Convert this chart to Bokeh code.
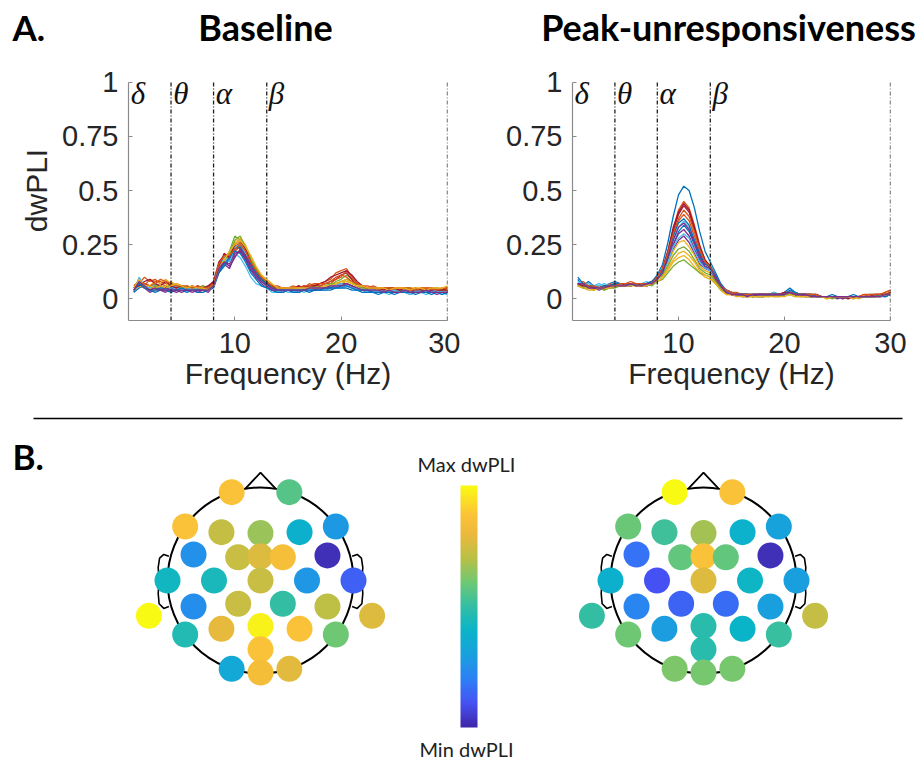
import numpy as np
from bokeh.plotting import figure
from bokeh.layouts import column, row
from bokeh.models import Range1d, FixedTicker, LinearColorMapper, ColumnDataSource
from bokeh.core.properties import value
from bokeh.embed import file_html
from bokeh.resources import INLINE

# ---------------- data ----------------
freqs = [0.5, 1.0, 1.5, 2.0, 2.5, 3.0, 3.5, 4.0, 4.5, 5.0,
         5.5, 6.0, 6.5, 7.0, 7.5, 8.0, 8.5, 9.0, 9.5, 10.0,
         10.5, 11.0, 11.5, 12.0, 12.5, 13.0, 13.5, 14.0, 14.5, 15.0,
         15.5, 16.0, 16.5, 17.0, 17.5, 18.0, 18.5, 19.0, 19.5, 20.0,
         20.5, 21.0, 21.5, 22.0, 22.5, 23.0, 23.5, 24.0, 24.5, 25.0,
         25.5, 26.0, 26.5, 27.0, 27.5, 28.0, 28.5, 29.0, 29.5, 30.0]

band_edges = [4, 8, 13, 30]
band_starts = [0, 4, 8, 13]
band_symbols = ["δ", "θ", "α", "β"]

x_ticks = [10, 20, 30]
y_ticks = [0, 0.25, 0.5, 0.75, 1]
y_tick_labels = ["0", "0.25", "0.5", "0.75", "1"]

panel_titles = ["Baseline", "Peak-unresponsiveness"]

baseline_curves = [
    [0.03,0.09,0.05,0.04,0.06,0.05,0.04,0.05,0.04,0.04, 0.04,0.05,0.04,0.04,0.05,0.07,0.14,0.17,0.20,0.25,
     0.23,0.19,0.14,0.10,0.08,0.06,0.04,0.03,0.04,0.04, 0.03,0.04,0.04,0.05,0.04,0.05,0.05,0.06,0.06,0.07,
     0.07,0.06,0.05,0.04,0.03,0.04,0.03,0.03,0.03,0.04, 0.03,0.03,0.02,0.03,0.03,0.04,0.03,0.03,0.03,0.03],
    [0.05,0.07,0.10,0.08,0.09,0.07,0.06,0.05,0.06,0.05, 0.05,0.04,0.05,0.05,0.06,0.07,0.16,0.19,0.18,0.22,
     0.24,0.20,0.15,0.12,0.09,0.07,0.05,0.05,0.05,0.04, 0.05,0.06,0.05,0.07,0.06,0.07,0.08,0.09,0.12,0.13,
     0.14,0.10,0.07,0.06,0.05,0.05,0.04,0.05,0.04,0.05, 0.04,0.05,0.04,0.04,0.05,0.04,0.04,0.05,0.04,0.04],
    [0.06,0.08,0.07,0.06,0.08,0.07,0.09,0.07,0.06,0.05, 0.06,0.05,0.04,0.05,0.04,0.06,0.13,0.17,0.20,0.23,
     0.26,0.22,0.17,0.13,0.10,0.08,0.06,0.05,0.04,0.05, 0.05,0.04,0.05,0.05,0.05,0.06,0.05,0.06,0.07,0.08,
     0.08,0.07,0.06,0.05,0.05,0.05,0.04,0.05,0.05,0.05, 0.04,0.04,0.05,0.04,0.05,0.05,0.04,0.05,0.04,0.05],
    [0.04,0.06,0.05,0.03,0.04,0.04,0.03,0.05,0.04,0.03, 0.04,0.04,0.03,0.04,0.03,0.06,0.12,0.16,0.14,0.20,
     0.22,0.18,0.13,0.10,0.07,0.05,0.04,0.04,0.03,0.04, 0.04,0.03,0.04,0.04,0.05,0.04,0.05,0.05,0.06,0.06,
     0.06,0.05,0.05,0.04,0.04,0.03,0.04,0.03,0.03,0.03, 0.03,0.04,0.03,0.03,0.03,0.03,0.03,0.02,0.03,0.03],
    [0.05,0.07,0.06,0.05,0.06,0.05,0.04,0.06,0.05,0.04, 0.05,0.04,0.04,0.04,0.05,0.07,0.15,0.18,0.22,0.29,
     0.27,0.23,0.18,0.13,0.09,0.07,0.05,0.04,0.05,0.05, 0.04,0.05,0.04,0.05,0.05,0.05,0.06,0.06,0.08,0.09,
     0.11,0.09,0.06,0.05,0.05,0.04,0.05,0.04,0.04,0.04, 0.04,0.04,0.04,0.03,0.04,0.04,0.03,0.04,0.04,0.04],
    [0.04,0.06,0.05,0.04,0.05,0.05,0.04,0.04,0.05,0.04, 0.04,0.04,0.05,0.04,0.04,0.06,0.13,0.16,0.18,0.21,
     0.19,0.15,0.10,0.07,0.06,0.05,0.03,0.03,0.04,0.03, 0.03,0.04,0.03,0.04,0.04,0.04,0.04,0.05,0.05,0.05,
     0.06,0.05,0.04,0.04,0.03,0.03,0.03,0.03,0.02,0.03, 0.03,0.03,0.02,0.03,0.03,0.02,0.03,0.03,0.02,0.03],
    [0.05,0.08,0.07,0.06,0.05,0.06,0.05,0.06,0.05,0.06, 0.05,0.05,0.06,0.05,0.05,0.08,0.17,0.20,0.19,0.23,
     0.25,0.21,0.16,0.13,0.10,0.07,0.05,0.05,0.04,0.05, 0.05,0.05,0.06,0.05,0.06,0.06,0.07,0.08,0.09,0.11,
     0.12,0.09,0.06,0.05,0.05,0.05,0.04,0.04,0.05,0.04, 0.05,0.04,0.04,0.04,0.04,0.04,0.05,0.04,0.04,0.04],
    [0.03,0.05,0.06,0.04,0.03,0.04,0.04,0.03,0.04,0.04, 0.03,0.04,0.03,0.03,0.04,0.05,0.12,0.15,0.18,0.22,
     0.21,0.17,0.12,0.09,0.06,0.05,0.04,0.03,0.03,0.04, 0.03,0.03,0.04,0.03,0.04,0.04,0.04,0.04,0.05,0.05,
     0.05,0.04,0.04,0.03,0.03,0.03,0.02,0.03,0.03,0.02, 0.03,0.03,0.03,0.02,0.03,0.03,0.02,0.03,0.03,0.02],
    [0.05,0.07,0.06,0.09,0.08,0.08,0.07,0.06,0.07,0.06, 0.05,0.06,0.05,0.06,0.05,0.07,0.15,0.19,0.21,0.24,
     0.26,0.24,0.19,0.14,0.10,0.08,0.06,0.05,0.05,0.05, 0.05,0.05,0.05,0.06,0.07,0.06,0.07,0.07,0.09,0.10,
     0.13,0.10,0.07,0.06,0.06,0.05,0.05,0.05,0.05,0.04, 0.05,0.05,0.04,0.05,0.04,0.05,0.04,0.04,0.05,0.04],
    [0.04,0.06,0.05,0.05,0.04,0.05,0.06,0.08,0.06,0.05, 0.05,0.05,0.05,0.04,0.05,0.06,0.14,0.18,0.21,0.26,
     0.28,0.25,0.19,0.14,0.11,0.08,0.06,0.05,0.05,0.04, 0.05,0.05,0.04,0.05,0.05,0.05,0.05,0.06,0.07,0.07,
     0.08,0.07,0.06,0.05,0.04,0.05,0.04,0.04,0.05,0.05, 0.05,0.04,0.05,0.05,0.04,0.05,0.05,0.04,0.05,0.05],
    [0.04,0.07,0.05,0.04,0.05,0.04,0.04,0.04,0.03,0.04, 0.04,0.03,0.04,0.04,0.04,0.06,0.13,0.17,0.16,0.21,
     0.22,0.19,0.14,0.10,0.08,0.06,0.04,0.04,0.04,0.04, 0.04,0.04,0.04,0.04,0.04,0.05,0.05,0.05,0.06,0.07,
     0.07,0.06,0.05,0.04,0.04,0.04,0.03,0.04,0.03,0.03, 0.04,0.03,0.03,0.04,0.03,0.03,0.04,0.03,0.03,0.03],
    [0.05,0.08,0.06,0.05,0.06,0.06,0.05,0.07,0.06,0.05, 0.06,0.05,0.05,0.06,0.05,0.07,0.16,0.18,0.21,0.27,
     0.29,0.24,0.18,0.14,0.10,0.07,0.06,0.05,0.05,0.05, 0.05,0.05,0.05,0.05,0.06,0.05,0.06,0.07,0.07,0.08,
     0.09,0.08,0.06,0.05,0.05,0.05,0.05,0.04,0.05,0.05, 0.04,0.05,0.05,0.04,0.05,0.04,0.05,0.05,0.04,0.05],
    [0.04,0.10,0.06,0.05,0.07,0.06,0.05,0.05,0.06,0.04, 0.05,0.04,0.05,0.05,0.04,0.06,0.14,0.19,0.17,0.24,
     0.25,0.21,0.15,0.11,0.08,0.06,0.05,0.04,0.04,0.04, 0.04,0.04,0.05,0.04,0.05,0.05,0.05,0.06,0.06,0.07,
     0.06,0.05,0.05,0.04,0.04,0.04,0.03,0.04,0.03,0.04, 0.03,0.04,0.03,0.03,0.04,0.03,0.03,0.04,0.03,0.03],
    [0.05,0.06,0.08,0.09,0.07,0.06,0.08,0.06,0.05,0.06, 0.05,0.06,0.05,0.05,0.06,0.08,0.15,0.21,0.19,0.25,
     0.27,0.23,0.17,0.12,0.09,0.07,0.06,0.05,0.05,0.05, 0.05,0.06,0.05,0.06,0.06,0.07,0.08,0.10,0.11,0.12,
     0.13,0.11,0.08,0.06,0.05,0.05,0.05,0.04,0.05,0.05, 0.04,0.05,0.04,0.05,0.04,0.04,0.05,0.04,0.04,0.05],
    [0.04,0.07,0.05,0.04,0.04,0.05,0.05,0.04,0.04,0.05, 0.04,0.04,0.04,0.05,0.04,0.06,0.13,0.16,0.19,0.23,
     0.24,0.20,0.16,0.12,0.09,0.07,0.05,0.04,0.04,0.04, 0.04,0.04,0.04,0.04,0.04,0.04,0.05,0.05,0.05,0.06,
     0.06,0.05,0.04,0.04,0.04,0.03,0.03,0.03,0.03,0.03, 0.03,0.03,0.03,0.03,0.03,0.03,0.03,0.03,0.02,0.03],
    [0.06,0.08,0.07,0.06,0.07,0.09,0.08,0.07,0.06,0.06, 0.06,0.05,0.06,0.05,0.05,0.07,0.16,0.20,0.20,0.23,
     0.25,0.22,0.17,0.13,0.10,0.08,0.06,0.06,0.05,0.05, 0.06,0.05,0.06,0.06,0.07,0.07,0.07,0.08,0.10,0.11,
     0.10,0.08,0.07,0.06,0.05,0.06,0.05,0.05,0.05,0.05, 0.05,0.05,0.05,0.04,0.05,0.05,0.05,0.04,0.05,0.05],
    [0.05,0.09,0.06,0.06,0.05,0.06,0.05,0.06,0.07,0.06, 0.05,0.06,0.05,0.05,0.04,0.06,0.14,0.18,0.22,0.25,
     0.27,0.24,0.20,0.15,0.11,0.09,0.07,0.05,0.05,0.05, 0.05,0.05,0.05,0.05,0.05,0.05,0.06,0.06,0.07,0.08,
     0.09,0.07,0.06,0.06,0.05,0.05,0.05,0.05,0.04,0.05, 0.05,0.05,0.04,0.05,0.05,0.04,0.05,0.05,0.05,0.06],
    [0.04,0.08,0.06,0.04,0.05,0.04,0.05,0.04,0.04,0.04, 0.04,0.04,0.04,0.04,0.04,0.06,0.14,0.17,0.15,0.19,
     0.23,0.20,0.15,0.11,0.08,0.06,0.05,0.04,0.04,0.04, 0.04,0.04,0.04,0.05,0.05,0.05,0.05,0.06,0.06,0.06,
     0.07,0.06,0.05,0.04,0.04,0.04,0.04,0.03,0.04,0.03, 0.03,0.04,0.03,0.03,0.03,0.04,0.03,0.03,0.03,0.03],
]

peak_curves = [
    [0.09,0.06,0.08,0.06,0.05,0.06,0.07,0.08,0.07,0.06, 0.07,0.07,0.06,0.07,0.08,0.11,0.16,0.26,0.38,0.48,
     0.52,0.50,0.42,0.31,0.22,0.17,0.12,0.07,0.04,0.03, 0.02,0.02,0.02,0.01,0.02,0.02,0.02,0.03,0.02,0.03,
     0.05,0.03,0.02,0.02,0.02,0.02,0.01,0.01,0.02,0.01, 0.01,0.01,0.02,0.01,0.01,0.02,0.02,0.01,0.02,0.02],
    [0.07,0.08,0.06,0.05,0.06,0.05,0.07,0.06,0.07,0.06, 0.07,0.06,0.07,0.06,0.07,0.10,0.14,0.22,0.32,0.41,
     0.45,0.42,0.34,0.25,0.18,0.15,0.10,0.06,0.04,0.03, 0.03,0.02,0.02,0.02,0.02,0.01,0.02,0.02,0.02,0.02,
     0.03,0.03,0.02,0.02,0.02,0.01,0.01,0.01,0.01,0.01, 0.01,0.01,0.01,0.01,0.02,0.01,0.02,0.02,0.03,0.04],
    [0.06,0.05,0.04,0.04,0.05,0.04,0.05,0.06,0.06,0.07, 0.06,0.07,0.06,0.06,0.07,0.08,0.10,0.13,0.17,0.19,
     0.20,0.18,0.15,0.12,0.10,0.09,0.07,0.04,0.02,0.02, 0.01,0.02,0.01,0.01,0.01,0.01,0.01,0.02,0.01,0.02,
     0.02,0.02,0.01,0.01,0.01,0.01,0.01,0.00,0.01,0.01, 0.00,0.01,0.01,0.00,0.01,0.01,0.01,0.01,0.02,0.03],
    [0.07,0.06,0.05,0.05,0.04,0.05,0.06,0.07,0.06,0.06, 0.06,0.07,0.07,0.06,0.07,0.09,0.12,0.17,0.23,0.27,
     0.29,0.26,0.21,0.16,0.14,0.13,0.09,0.05,0.03,0.02, 0.02,0.01,0.01,0.02,0.01,0.01,0.02,0.02,0.02,0.02,
     0.03,0.02,0.02,0.01,0.02,0.01,0.01,0.01,0.01,0.00, 0.01,0.01,0.01,0.01,0.01,0.01,0.01,0.02,0.01,0.02],
    [0.06,0.05,0.05,0.04,0.05,0.04,0.05,0.05,0.06,0.06, 0.07,0.06,0.06,0.07,0.06,0.08,0.09,0.12,0.15,0.17,
     0.18,0.16,0.14,0.12,0.11,0.10,0.07,0.04,0.03,0.02, 0.02,0.01,0.02,0.01,0.01,0.01,0.02,0.01,0.02,0.02,
     0.02,0.01,0.01,0.02,0.01,0.01,0.01,0.01,0.00,0.01, 0.01,0.01,0.00,0.01,0.01,0.01,0.01,0.02,0.02,0.02],
    [0.08,0.07,0.06,0.06,0.07,0.06,0.06,0.07,0.06,0.07, 0.07,0.06,0.07,0.07,0.08,0.10,0.13,0.19,0.27,0.33,
     0.36,0.33,0.27,0.20,0.15,0.13,0.09,0.05,0.03,0.03, 0.02,0.02,0.02,0.02,0.02,0.02,0.02,0.03,0.02,0.02,
     0.04,0.03,0.02,0.02,0.01,0.02,0.01,0.01,0.01,0.01, 0.01,0.01,0.01,0.01,0.01,0.02,0.01,0.01,0.02,0.02],
    [0.06,0.07,0.06,0.05,0.05,0.06,0.05,0.06,0.07,0.07, 0.06,0.07,0.06,0.07,0.07,0.10,0.14,0.21,0.31,0.39,
     0.43,0.40,0.32,0.24,0.17,0.14,0.09,0.05,0.03,0.02, 0.02,0.02,0.01,0.02,0.02,0.01,0.02,0.02,0.02,0.03,
     0.03,0.02,0.02,0.02,0.02,0.01,0.01,0.01,0.01,0.01, 0.01,0.00,0.01,0.01,0.01,0.01,0.01,0.02,0.02,0.03],
    [0.07,0.05,0.06,0.05,0.05,0.05,0.06,0.06,0.07,0.06, 0.07,0.07,0.06,0.07,0.07,0.09,0.12,0.18,0.25,0.31,
     0.34,0.31,0.25,0.19,0.15,0.14,0.10,0.06,0.03,0.02, 0.02,0.02,0.02,0.01,0.02,0.02,0.02,0.02,0.02,0.02,
     0.03,0.02,0.02,0.01,0.02,0.01,0.01,0.01,0.01,0.01, 0.01,0.01,0.01,0.01,0.01,0.01,0.02,0.01,0.01,0.02],
    [0.07,0.06,0.06,0.06,0.05,0.05,0.06,0.07,0.07,0.07, 0.08,0.07,0.07,0.07,0.08,0.10,0.13,0.20,0.29,0.36,
     0.39,0.36,0.29,0.22,0.16,0.15,0.10,0.06,0.04,0.03, 0.02,0.02,0.02,0.02,0.02,0.02,0.02,0.02,0.02,0.03,
     0.03,0.02,0.02,0.02,0.02,0.02,0.01,0.01,0.01,0.01, 0.01,0.01,0.01,0.01,0.02,0.01,0.02,0.02,0.02,0.03],
    [0.07,0.06,0.05,0.05,0.05,0.06,0.06,0.06,0.07,0.07, 0.07,0.07,0.06,0.07,0.07,0.09,0.11,0.16,0.22,0.26,
     0.27,0.24,0.20,0.15,0.13,0.12,0.08,0.05,0.03,0.02, 0.02,0.02,0.01,0.02,0.02,0.01,0.02,0.02,0.01,0.02,
     0.03,0.02,0.02,0.02,0.01,0.01,0.01,0.01,0.01,0.01, 0.01,0.01,0.01,0.01,0.01,0.01,0.01,0.02,0.02,0.03],
    [0.07,0.06,0.06,0.05,0.05,0.05,0.06,0.07,0.06,0.06, 0.06,0.07,0.06,0.06,0.07,0.09,0.12,0.18,0.25,0.30,
     0.32,0.29,0.23,0.18,0.14,0.13,0.09,0.05,0.03,0.02, 0.02,0.02,0.02,0.01,0.02,0.02,0.01,0.02,0.02,0.02,
     0.03,0.02,0.02,0.01,0.01,0.01,0.01,0.01,0.01,0.01, 0.00,0.01,0.01,0.01,0.01,0.01,0.01,0.01,0.02,0.02],
    [0.06,0.06,0.05,0.05,0.05,0.05,0.06,0.06,0.06,0.07, 0.06,0.07,0.06,0.07,0.07,0.09,0.11,0.15,0.20,0.23,
     0.24,0.22,0.18,0.14,0.12,0.11,0.08,0.05,0.03,0.02, 0.02,0.01,0.01,0.01,0.01,0.01,0.02,0.01,0.01,0.02,
     0.02,0.02,0.01,0.01,0.01,0.01,0.01,0.01,0.01,0.01, 0.01,0.01,0.01,0.01,0.01,0.01,0.01,0.02,0.02,0.02],
    [0.08,0.06,0.07,0.06,0.06,0.07,0.06,0.07,0.07,0.06, 0.07,0.07,0.07,0.08,0.07,0.10,0.12,0.17,0.24,0.28,
     0.30,0.28,0.22,0.17,0.14,0.13,0.10,0.06,0.03,0.02, 0.02,0.02,0.02,0.02,0.01,0.02,0.02,0.02,0.02,0.02,
     0.03,0.02,0.02,0.02,0.01,0.01,0.01,0.01,0.01,0.01, 0.01,0.01,0.01,0.01,0.01,0.01,0.01,0.01,0.02,0.02],
    [0.07,0.06,0.06,0.05,0.05,0.06,0.06,0.07,0.06,0.07, 0.07,0.06,0.07,0.07,0.08,0.10,0.14,0.22,0.33,0.40,
     0.44,0.41,0.33,0.24,0.18,0.15,0.10,0.06,0.03,0.02, 0.02,0.02,0.02,0.01,0.02,0.02,0.02,0.02,0.02,0.03,
     0.03,0.02,0.02,0.02,0.01,0.02,0.01,0.01,0.01,0.01, 0.01,0.01,0.01,0.01,0.01,0.01,0.02,0.02,0.02,0.03],
    [0.10,0.07,0.06,0.06,0.05,0.06,0.06,0.07,0.07,0.07, 0.06,0.07,0.07,0.07,0.08,0.10,0.13,0.20,0.29,0.35,
     0.37,0.34,0.27,0.21,0.16,0.15,0.11,0.06,0.04,0.03, 0.02,0.02,0.02,0.02,0.02,0.02,0.02,0.02,0.02,0.02,
     0.04,0.03,0.02,0.02,0.02,0.01,0.01,0.01,0.01,0.01, 0.01,0.01,0.01,0.01,0.01,0.01,0.01,0.02,0.01,0.02],
    [0.07,0.07,0.06,0.06,0.05,0.05,0.06,0.06,0.07,0.07, 0.07,0.07,0.07,0.07,0.07,0.10,0.14,0.21,0.30,0.37,
     0.41,0.38,0.31,0.23,0.17,0.15,0.10,0.06,0.04,0.03, 0.02,0.02,0.02,0.02,0.02,0.02,0.02,0.02,0.02,0.02,
     0.03,0.02,0.02,0.02,0.02,0.02,0.01,0.01,0.01,0.01, 0.01,0.01,0.01,0.01,0.02,0.02,0.02,0.02,0.03,0.04],
    [0.06,0.05,0.05,0.04,0.05,0.05,0.05,0.06,0.06,0.06, 0.06,0.06,0.06,0.06,0.07,0.08,0.10,0.14,0.18,0.21,
     0.22,0.20,0.17,0.13,0.11,0.10,0.07,0.04,0.02,0.02, 0.01,0.01,0.01,0.01,0.01,0.01,0.01,0.01,0.01,0.01,
     0.02,0.01,0.01,0.01,0.01,0.01,0.01,0.00,0.01,0.01, 0.01,0.01,0.00,0.01,0.01,0.01,0.01,0.01,0.02,0.02],
    [0.07,0.07,0.05,0.05,0.05,0.05,0.06,0.06,0.06,0.06, 0.07,0.06,0.06,0.07,0.07,0.09,0.12,0.19,0.27,0.33,
     0.35,0.32,0.26,0.20,0.15,0.14,0.10,0.06,0.03,0.02, 0.02,0.02,0.01,0.02,0.02,0.02,0.02,0.02,0.02,0.02,
     0.03,0.02,0.02,0.02,0.01,0.01,0.01,0.01,0.01,0.01, 0.01,0.01,0.01,0.01,0.01,0.01,0.01,0.01,0.02,0.02],
]

# electrode layout (head-radius units)
elec_x = [-0.31, 0.31,
          -0.81, -0.42, 0.0, 0.42, 0.81,
          -0.72, -0.24, 0.0, 0.24, 0.72,
          -1.0, -0.5, 0.0, 0.5, 1.0,
          -0.72, -0.24, 0.24, 0.72,
          -1.2, 1.2,
          -0.81, -0.42, 0.0, 0.42, 0.81,
          0.0,
          -0.31, 0.0, 0.31]
elec_y = [0.95, 0.95,
          0.58, 0.52, 0.51, 0.52, 0.58,
          0.28, 0.25, 0.26, 0.25, 0.27,
          0.0, 0.0, 0.0, 0.0, 0.0,
          -0.28, -0.25, -0.25, -0.28,
          -0.38, -0.38,
          -0.58, -0.52, -0.49, -0.52, -0.58,
          -0.74,
          -0.95, -0.99, -0.95]

# normalized dwPLI per electrode (0 = min, 1 = max)
baseline_topo = [0.87, 0.56,
                 0.87, 0.72, 0.66, 0.38, 0.28,
                 0.25, 0.73, 0.77, 0.85, 0.02,
                 0.42, 0.44, 0.73, 0.27, 0.13,
                 0.24, 0.73, 0.50, 0.71,
                 1.00, 0.77,
                 0.46, 0.79, 0.98, 0.87, 0.60,
                 0.87,
                 0.34, 0.84, 0.78]
peak_topo = [1.00, 0.87,
             0.59, 0.52, 0.67, 0.39, 0.31,
             0.17, 0.58, 0.87, 0.58, 0.02,
             0.38, 0.10, 0.77, 0.41, 0.30,
             0.22, 0.14, 0.16, 0.30,
             0.50, 0.72,
             0.60, 0.29, 0.48, 0.40, 0.51,
             0.48,
             0.62, 0.61, 0.61]

# ---------------- styles ----------------
line_colors = ["#0072BD", "#D95319", "#EDB120", "#7E2F8E", "#77AC30", "#4DBEEE", "#A2142F"]
AXIS_GRAY = "#8a8a8a"
TXT = "#262626"

parula_stops = [
    (0.00, (62, 38, 168)), (0.10, (70, 82, 244)), (0.20, (45, 128, 245)),
    (0.30, (25, 160, 222)), (0.40, (10, 180, 200)), (0.50, (50, 190, 165)),
    (0.60, (110, 200, 115)), (0.70, (185, 192, 70)), (0.80, (235, 185, 60)),
    (0.88, (252, 195, 55)), (1.00, (249, 250, 20)),
]
_pos = np.array([s[0] for s in parula_stops])
_rgb = np.array([s[1] for s in parula_stops], dtype=float)
_t = np.linspace(0, 1, 256)
parula = ["#%02x%02x%02x" % tuple(int(round(np.interp(t, _pos, _rgb[:, k]))) for k in range(3)) for t in _t]


def bare_fig(w, h):
    f = figure(width=w, height=h, x_range=Range1d(0, w), y_range=Range1d(0, h),
               output_backend="svg", toolbar_location=None, min_border=0)
    f.axis.visible = False
    f.xgrid.visible = False
    f.ygrid.visible = False
    f.outline_line_color = None
    return f


# ---------------- header (panel letter + titles) ----------------
hdr = bare_fig(920, 50)
hdr.text(x=[12], y=[24], text=["A."], text_font=value("Lato"), text_font_style="bold",
         text_font_size="35px", text_align="left", text_baseline="middle", text_color="black")
hdr.text(x=[265, 728], y=[24, 24], text=panel_titles, text_font=value("Lato"), text_font_style="bold",
         text_font_size="36px", text_align="center", text_baseline="middle", text_color="black")


def spectrum_fig(curves, left, right, ylabel=None):
    p = figure(width=460, height=364, x_range=Range1d(0, 30), y_range=Range1d(-0.1, 1.1),
               output_backend="svg", toolbar_location=None,
               min_border_left=left, min_border_right=right,
               min_border_top=10, min_border_bottom=94)
    p.title.visible = False
    p.outline_line_color = None
    p.xgrid.visible = False
    p.ygrid.visible = False
    for ax in (p.xaxis[0], p.yaxis[0]):
        ax.axis_line_color = AXIS_GRAY
        ax.axis_line_width = 1.2
        ax.major_tick_line_color = AXIS_GRAY
        ax.major_tick_in = 4
        ax.major_tick_out = 0
        ax.minor_tick_line_color = None
        ax.major_label_text_font = "Liberation Sans"
        ax.major_label_text_font_size = "29px"
        ax.major_label_text_color = TXT
        ax.axis_label_text_font = "Liberation Sans"
        ax.axis_label_text_font_size = "30px"
        ax.axis_label_text_font_style = "normal"
        ax.axis_label_text_color = TXT
    p.xaxis.ticker = FixedTicker(ticks=x_ticks)
    p.yaxis.ticker = FixedTicker(ticks=y_ticks)
    p.yaxis.major_label_overrides = dict(zip(y_ticks, y_tick_labels))
    p.xaxis.bounds = (0, 30)
    p.yaxis.bounds = (-0.1, 1.0)
    p.xaxis.major_label_standoff = 12
    p.yaxis.major_label_standoff = 10
    p.xaxis.axis_label = "Frequency (Hz)"
    p.xaxis.axis_label_standoff = 1
    if ylabel:
        p.yaxis.axis_label = ylabel
        p.yaxis.axis_label_standoff = 6

    for i, c in enumerate(curves):
        p.line(freqs, c, line_color=line_colors[i % len(line_colors)], line_width=1.3)

    p.segment(x0=band_edges, y0=[-0.1] * len(band_edges), x1=band_edges, y1=[1.0] * len(band_edges),
              line_color="#1e1e1e", line_width=1.3, line_dash="4 2 1 2")
    p.text(x=[s + 0.2 for s in band_starts], y=[0.95] * len(band_starts), text=band_symbols,
           text_font=value("Liberation Serif"), text_font_style="italic", text_font_size="31px",
           text_align="left", text_baseline="alphabetic", text_color="#111111")
    return p


p1 = spectrum_fig(baseline_curves, 128, 13, ylabel="dwPLI")
p2 = spectrum_fig(peak_curves, 112, 30)

# ---------------- bottom panel ----------------
H3 = 346
p3 = bare_fig(920, H3)
p3.segment(x0=[33], y0=[342], x1=[902], y1=[342], line_color="black", line_width=1.5)
p3.text(x=[12], y=[305], text=["B."], text_font=value("Lato"), text_font_style="bold",
        text_font_size="35px", text_baseline="middle", text_align="left", text_color="black")

mapper = LinearColorMapper(palette=parula, low=0, high=1)
R = 93
ELEC_R = 13
ear_x = [0.985, 1.04, 1.085, 1.1, 1.09, 1.1, 1.09, 1.04, 0.985]
ear_y = [0.26, 0.28, 0.24, 0.14, 0.0, -0.14, -0.25, -0.3, -0.28]


def head(cx, cy, vals):
    p3.circle(x=[cx], y=[cy], radius=R, fill_color=None, line_color="black", line_width=2)
    p3.line([cx - 0.16 * R, cx, cx + 0.16 * R], [cy + 0.99 * R, cy + 1.16 * R, cy + 0.99 * R],
            line_color="black", line_width=1.8)
    p3.line([cx - e * R for e in ear_x], [cy + e * R for e in ear_y], line_color="black", line_width=1.6)
    p3.line([cx + e * R for e in ear_x], [cy + e * R for e in ear_y], line_color="black", line_width=1.6)
    src = ColumnDataSource(dict(x=[cx + v * R for v in elec_x], y=[cy + v * R for v in elec_y], val=vals))
    p3.circle(x="x", y="y", radius=ELEC_R, source=src, line_color=None,
              fill_color={"field": "val", "transform": mapper})


head(260, 180, baseline_topo)
head(703, 180, peak_topo)

grad = np.linspace(0, 1, 256).reshape(256, 1)
p3.image(image=[grad], x=460, y=33, dw=17, dh=242, color_mapper=mapper)
p3.text(x=[466], y=[297], text=["Max dwPLI"], text_font=value("Lato"), text_font_size="20px",
        text_align="center", text_baseline="middle", text_color="#222222")
p3.text(x=[466], y=[12], text=["Min dwPLI"], text_font=value("Lato"), text_font_size="20px",
        text_align="center", text_baseline="middle", text_color="#222222")

layout = column(hdr, row(p1, p2), p3)
open("out.html", "w").write(file_html(layout, INLINE))
